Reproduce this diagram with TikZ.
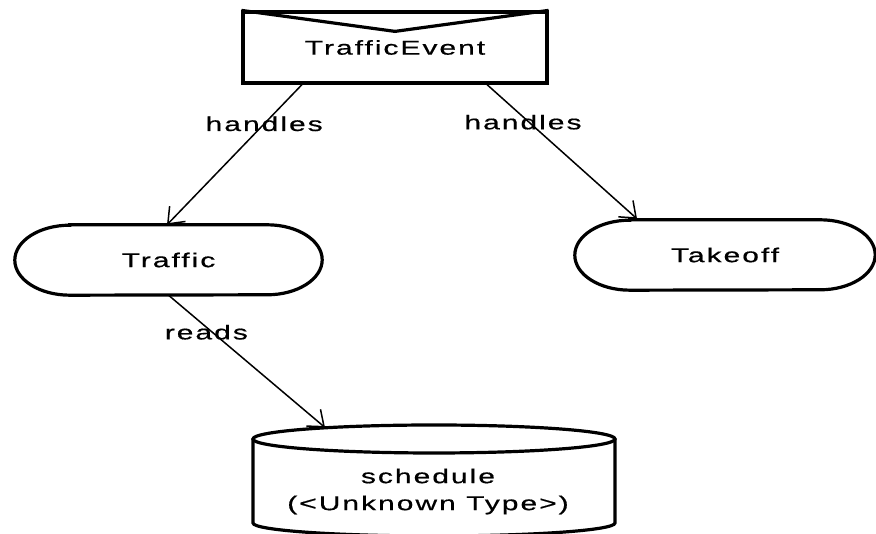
\documentclass[tikz,border=0pt]{standalone}
\usepackage{fontspec}
\setmainfont{Liberation Sans}[FakeStretch=1.5,LetterSpace=10,FakeBold=0.6]
\usepackage{tikz}
\usetikzlibrary{calc,arrows.meta,positioning}
\tikzset{
  shp/.style={line width=3.2pt,black},
  ar/.style={-{Straight Barb[length=14pt,width=22pt,line width=1.5pt]},line width=1.5pt,black},
  txt/.style={font=\fontsize{20}{27}\selectfont,inner sep=0pt,align=center},
  lbl/.style={txt,pos=0.28}
}
\newcommand{\stadium}[3]{\draw[shp] ($(#1.north west)+(#2,0)$) -- ($(#1.north east)+(-#2,0)$)
  arc[start angle=90,end angle=-90,x radius=#2pt,y radius=#3pt] -- ($(#1.south west)+(#2,0)$)
  arc[start angle=270,end angle=90,x radius=#2pt,y radius=#3pt] -- cycle;}

\begin{document}
\begin{tikzpicture}[x=1pt,y=1pt]
\useasboundingbox (0,0) rectangle (876,534);
\node[txt,draw,shp,minimum width=304pt,minimum height=71pt] (ev) at (395,486.5) {TrafficEvent};
\draw[shp] (ev.north west) -- ([yshift=-21pt]ev.north) -- (ev.north east);
\node[txt,minimum width=307pt,minimum height=70pt] (traffic) at (168.5,274) {Traffic};
\stadium{traffic}{55}{35}
\node[txt,minimum width=300pt,minimum height=70pt] (takeoff) at (725,279) {Takeoff};
\stadium{takeoff}{55}{35}
\node[txt] (sched) at (428,42.5) {schedule\\(<Unknown Type>)};
\draw[shp] ([shift={(-175,52.5)}]sched.center) -- ([shift={(-175,-31.5)}]sched.center)
  arc[start angle=180,end angle=360,x radius=181pt,y radius=13pt] -- ([shift={(187,52.5)}]sched.center);
\draw[shp] ([shift={(6,52.5)}]sched.center) ellipse[x radius=181pt,y radius=14pt];
\draw[ar] ([xshift=-93pt]ev.south) -- node[lbl]{handles} ([xshift=-1.5pt]traffic.north);
\draw[ar] ([xshift=92pt]ev.south) -- node[lbl,xshift=-6pt]{handles} ([xshift=-88pt,yshift=1pt]takeoff.north);
\draw[ar] (traffic.south) -- node[lbl,xshift=-6pt]{reads} ([shift={(-103,64)}]sched.center);
\end{tikzpicture}
\end{document}
